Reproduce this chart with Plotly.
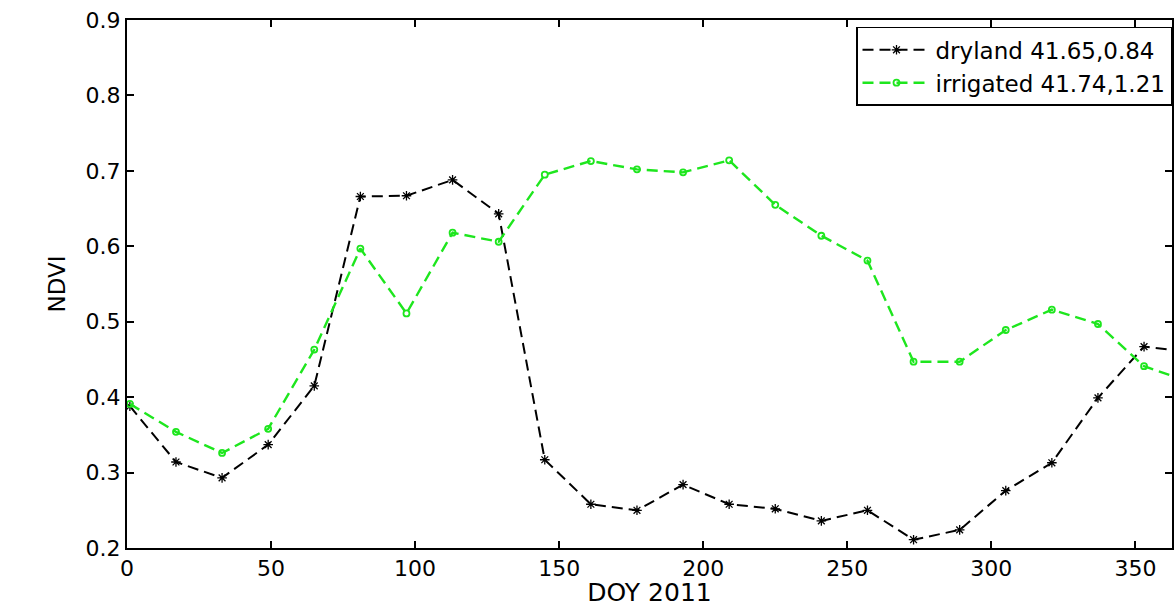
import plotly.graph_objects as go

doy = [1, 17, 33, 49, 65, 81, 97, 113, 129, 145, 161, 177, 193, 209, 225, 241,
       257, 273, 289, 305, 321, 337, 353, 369]
dryland = [0.388, 0.314, 0.293, 0.337, 0.415, 0.666, 0.667, 0.688, 0.643, 0.317,
           0.258, 0.250, 0.284, 0.258, 0.252, 0.236, 0.250, 0.211, 0.224, 0.276,
           0.313, 0.399, 0.467, 0.460]
irrigated = [0.391, 0.354, 0.326, 0.358, 0.463, 0.597, 0.511, 0.618, 0.606, 0.695,
             0.713, 0.702, 0.698, 0.714, 0.655, 0.614, 0.581, 0.447, 0.447, 0.489,
             0.516, 0.497, 0.441, 0.420]
names = ["dryland 41.65,0.84", "irrigated 41.74,1.21"]
xticks = [0, 50, 100, 150, 200, 250, 300, 350]
yticks = [0.2, 0.3, 0.4, 0.5, 0.6, 0.7, 0.8, 0.9]

font = "DejaVu Sans, Verdana, sans-serif"
green = "#1ee61e"

fig = go.Figure()
fig.add_trace(go.Scatter(
    x=doy, y=dryland, name=names[0], mode="lines+markers",
    line=dict(color="black", width=2, dash="11px,6px"),
    marker=dict(symbol="asterisk-open", size=8, color="black",
                line=dict(color="black", width=1.3)),
))
fig.add_trace(go.Scatter(
    x=doy, y=irrigated, name=names[1], mode="lines+markers",
    line=dict(color=green, width=2.4, dash="11px,6px"),
    marker=dict(symbol="circle-open", size=6, color=green,
                line=dict(color=green, width=1.8)),
))

axis_common = dict(
    showgrid=False, zeroline=False, showline=True, linecolor="black",
    linewidth=2, mirror="ticks", ticks="inside", ticklen=7, tickwidth=2,
    tickcolor="black", tickfont=dict(family=font, size=22, color="black"),
)

fig.update_xaxes(
    range=[0, 362.7], tickvals=xticks, ticktext=[str(v) for v in xticks],
    title=dict(text="DOY 2011", font=dict(family=font, size=25, color="black"),
               standoff=2),
    **axis_common,
)
fig.update_yaxes(
    range=[0.2, 0.9], tickvals=yticks, ticktext=["%.1f" % v for v in yticks],
    title=dict(text="NDVI", font=dict(family=font, size=23, color="black"),
               standoff=14),
    **axis_common,
)

fig.update_layout(
    width=1174, height=607,
    margin=dict(l=127, r=0, t=20, b=59),
    paper_bgcolor="white", plot_bgcolor="white",
    showlegend=True,
    legend=dict(
        x=1, y=0.987, xanchor="right", yanchor="top",
        bgcolor="white", bordercolor="black", borderwidth=1.5,
        font=dict(family=font, size=23, color="black"),
        tracegroupgap=0, itemwidth=68,
    ),
)

fig.write_html("out.html")
